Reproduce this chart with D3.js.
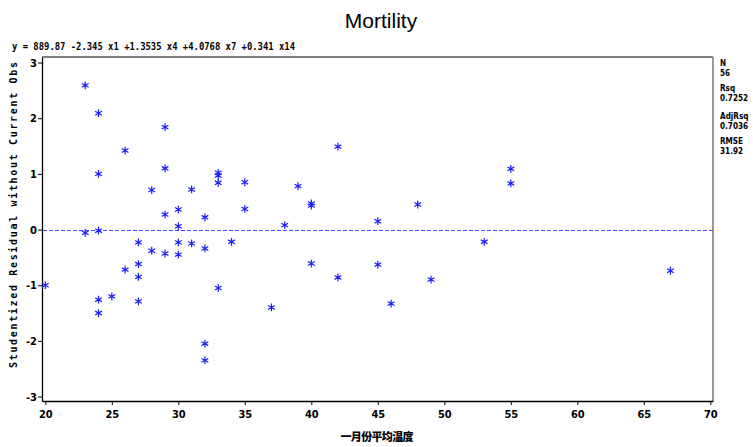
<!DOCTYPE html>
<html>
<head>
<meta charset="utf-8">
<script src="https://d3js.org/d3.v7.min.js"></script>
<style>
  body { margin: 0; background: #fff; }
  svg { display: block; }
</style>
</head>
<body>
<div id="chart"></div>
<script>
// data: january mean temperature vs studentized residual
const xValues = [
  20, 23, 23, 24, 24, 24, 24, 24, 25, 26, 26,
  27, 27, 27, 27, 28, 28, 29, 29, 29, 29,
  30, 30, 30, 30, 31, 31, 32, 32, 32, 32,
  33, 33, 33, 33, 34, 35, 35, 37, 38, 39,
  40, 40, 40, 42, 42, 45, 45, 46, 48, 49,
  53, 55, 55, 67
];
const residuals = [
  -1.00, 2.59, -0.06, 2.09, 1.00, -0.02, -1.26, -1.50, -1.20, 1.42, -0.72,
  -0.23, -0.62, -0.85, -1.29, 0.71, -0.38, 1.84, 1.10, 0.27, -0.43,
  0.36, 0.06, -0.23, -0.45, 0.72, -0.25, 0.22, -0.34, -2.05, -2.35,
  1.02, 0.97, 0.84, -1.05, -0.22, 0.85, 0.37, -1.40, 0.08, 0.78,
  0.47, 0.43, -0.61, 1.49, -0.86, 0.15, -0.63, -1.33, 0.45, -0.90,
  -0.22, 1.09, 0.83, -0.74
];
const xTicks = [20, 25, 30, 35, 40, 45, 50, 55, 60, 65, 70];
const yTicks = [-3, -2, -1, 0, 1, 2, 3];
const statNames = ["N", "Rsq", "AdjRsq", "RMSE"];
const statValues = ["56", "0.7252", "0.7036", "31.92"];

const titleText = "Mortility";
const equationText = "y = 889.87 -2.345 x1 +1.3535 x4 +4.0768 x7 +0.341 x14";
const yLabelText = "Studentized Residual without Current Obs";
const xLabelText = "一月份平均温度";

const W = 753, H = 447;
const plot = { left: 42, right: 713, top: 57, bottom: 401 };

const svg = d3.select("#chart").append("svg")
    .attr("width", W)
    .attr("height", H);

const x = d3.scaleLinear()
    .domain([19.75, 70.2])
    .range([plot.left, plot.right]);

const y = d3.scaleLinear()
    .domain([-3.08, 3.1])
    .range([plot.bottom, plot.top]);

const narrowFont = "'Liberation Sans Narrow','DejaVu Sans Condensed','Arial Narrow',sans-serif";
const plainInt = d => String(d); // ascii hyphen like the original

// frame (top + right)
svg.append("line")
    .attr("x1", plot.left).attr("x2", plot.right)
    .attr("y1", plot.top).attr("y2", plot.top)
    .attr("stroke", "#000").attr("stroke-width", 1);
svg.append("line")
    .attr("x1", plot.right).attr("x2", plot.right)
    .attr("y1", plot.top).attr("y2", plot.bottom)
    .attr("stroke", "#777").attr("stroke-width", 1.5);

// axes
const xAxis = svg.append("g")
    .attr("transform", `translate(0,${plot.bottom})`)
    .call(d3.axisBottom(x).tickValues(xTicks).tickFormat(plainInt).tickSize(4).tickSizeOuter(0));
const yAxis = svg.append("g")
    .attr("transform", `translate(${plot.left},0)`)
    .call(d3.axisLeft(y).tickValues(yTicks).tickFormat(plainInt).tickSize(4).tickSizeOuter(0));

[xAxis, yAxis].forEach(g => {
  g.select(".domain").attr("stroke", "#000").attr("stroke-width", 1.3);
  g.selectAll(".tick line").attr("stroke", "#000");
  g.selectAll(".tick text")
      .attr("font-family", narrowFont)
      .attr("font-weight", "bold")
      .attr("font-size", 11)
      .attr("fill", "#000");
});
xAxis.selectAll(".tick text").attr("dy", "0.9em");
yAxis.selectAll(".tick text").attr("x", -5);

// zero reference line
svg.append("line")
    .attr("x1", plot.left + 1).attr("x2", plot.right)
    .attr("y1", Math.round(y(0)) + 0.5).attr("y2", Math.round(y(0)) + 0.5)
    .attr("stroke", "#4545ff")
    .attr("stroke-width", 1)
    .attr("stroke-dasharray", "4,2");

// asterisk markers
const star = d3.symbol().type(d3.symbolAsterisk).size(42);
svg.append("g")
  .selectAll("path")
  .data(xValues.map((v, i) => ({ x: v, r: residuals[i] })))
  .join("path")
    .attr("transform", d => `translate(${x(d.x)},${y(d.r)})`)
    .attr("d", star)
    .attr("fill", "none")
    .attr("stroke", "#1a1aff")
    .attr("stroke-width", 1.2);

// title
svg.append("text")
    .attr("x", 381)
    .attr("y", 28)
    .attr("text-anchor", "middle")
    .attr("font-family", "'Liberation Sans',Arial,sans-serif")
    .attr("font-size", 21)
    .text(titleText);

// model equation
svg.append("text")
    .attr("x", 12)
    .attr("y", 50)
    .attr("font-family", "'DejaVu Sans Mono',monospace")
    .attr("font-weight", "bold")
    .attr("font-size", 10)
    .attr("textLength", 283)
    .attr("lengthAdjust", "spacingAndGlyphs")
    .text(equationText);

// y label
svg.append("text")
    .attr("transform", "translate(17,215) rotate(-90)")
    .attr("text-anchor", "middle")
    .attr("font-family", "'DejaVu Sans Mono',monospace")
    .attr("font-weight", "bold")
    .attr("font-size", 10)
    .attr("textLength", 306)
    .attr("lengthAdjust", "spacing")
    .text(yLabelText);

// x label
svg.append("text")
    .attr("x", 377)
    .attr("y", 441)
    .attr("text-anchor", "middle")
    .attr("font-family", "'Noto Sans CJK SC',sans-serif")
    .attr("font-weight", "900")
    .attr("font-size", 11)
    .attr("textLength", 73)
    .text(xLabelText);

// fit statistics on the right
const statRows = [63, 88, 116, 141];
const stats = svg.append("g").attr("font-family", narrowFont).attr("font-weight", "bold");
statNames.forEach((n, i) => {
  stats.append("text")
      .attr("transform", `translate(720,${statRows[i] + 3}) scale(0.9,1.05)`)
      .attr("font-size", 9)
      .text(n);
  stats.append("text")
      .attr("transform", `translate(720,${statRows[i] + 13}) scale(0.9,1.05)`)
      .attr("font-size", 9)
      .text(statValues[i]);
});
</script>
</body>
</html>
